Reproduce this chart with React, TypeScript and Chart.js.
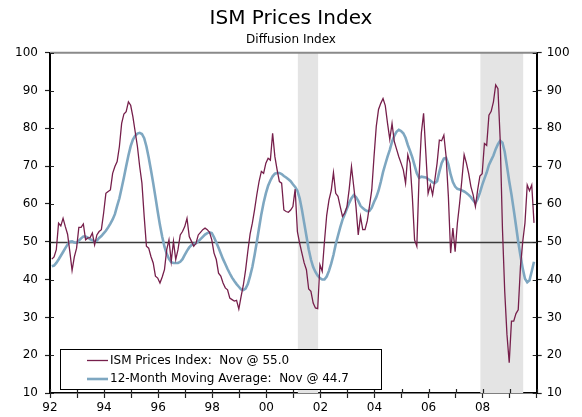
import React, { useEffect, useRef } from 'react';
import { Chart, registerables } from 'chart.js';

Chart.register(...registerables);

// ---------- data ----------
const startYear = 1992;
const endYear = 2010;
const titleText = 'ISM Prices Index';
const subtitleText = 'Diffusion Index';

// Monthly ISM Prices Index, Jan 1992 .. Nov 2009
const ismPrices = [
  45.4, 46.0, 47.9, 54.9, 54.2, 56.2, 54.0, 52.0, 47.4, 42.4, 46.0, 48.3, // 1992
  53.8, 53.8, 54.7, 50.5, 51.0, 51.1, 52.3, 49.2, 51.8, 52.7, 53.2, 57.6, // 1993
  62.8, 63.3, 63.7, 68.1, 69.9, 71.2, 75.2, 81.3, 83.8, 84.4, 87.0, 86.1, // 1994
  83.0, 79.1, 75.2, 69.9, 65.5, 56.7, 48.8, 48.3, 46.1, 44.4, 40.9, 40.4, // 1995
  39.1, 40.7, 42.6, 47.9, 50.5, 44.8, 50.1, 45.3, 47.9, 51.8, 52.7, 54.0, // 1996
  56.2, 51.4, 50.1, 48.8, 49.6, 51.8, 52.5, 53.2, 53.6, 53.2, 52.5, 50.5, // 1997
  47.0, 45.3, 41.7, 40.9, 39.1, 37.8, 37.3, 35.1, 34.7, 34.3, 34.5, 32.2, // 1998
  35.5, 38.5, 42.5, 47.5, 52.0, 54.9, 58.5, 62.5, 66.0, 68.6, 68.1, 70.8, // 1999
  72.1, 71.6, 78.7, 72.5, 69.0, 65.9, 65.5, 58.4, 58.0, 57.8, 58.4, 59.3, // 2000
  63.9, 52.7, 49.6, 47.0, 44.4, 42.6, 37.5, 36.9, 33.8, 32.5, 32.3, 43.9, // 2001
  42.2, 50.0, 57.0, 61.0, 63.5, 68.3, 62.8, 62.0, 59.3, 56.7, 57.6, 59.3, // 2002
  64.0, 69.9, 64.6, 59.3, 51.8, 56.7, 53.2, 53.2, 55.5, 59.5, 63.7, 72.5, // 2003
  80.5, 85.0, 86.6, 87.9, 86.0, 81.3, 77.1, 81.3, 76.5, 74.5, 72.5, 70.8, // 2004
  69.0, 65.5, 73.0, 70.8, 62.0, 50.5, 48.8, 67.2, 78.7, 84.0, 73.4, 62.8, // 2005
  65.0, 62.4, 66.4, 70.8, 76.9, 76.7, 78.2, 72.5, 62.0, 47.0, 53.6, 47.4, // 2006
  54.9, 60.2, 66.4, 73.0, 70.8, 68.1, 64.6, 62.4, 59.3, 63.7, 67.4, 68.0, // 2007
  76.0, 75.5, 83.5, 84.5, 87.0, 91.5, 90.5, 77.0, 53.5, 37.0, 25.5, 18.0, // 2008
  29.0, 29.0, 31.0, 32.0, 43.5, 50.0, 55.0, 65.0, 63.5, 65.0, 55.0,       // 2009
];

// 12-month moving average, Jan 1992 .. Nov 2009
const movingAverage = [
  43.5, 43.7, 44.4, 45.3, 46.3, 47.3, 48.3, 49.3, 50.0, 50.1, 49.8, 49.7, // 1992
  50.3, 50.9, 51.4, 51.4, 51.1, 50.7, 50.4, 50.1, 50.3, 51.0, 51.5, 52.2, // 1993
  52.9, 53.8, 54.8, 55.9, 57.3, 59.5, 61.5, 64.2, 67.0, 70.0, 72.8, 75.3, // 1994
  77.0, 78.0, 78.6, 78.8, 78.5, 77.4, 75.2, 72.3, 69.0, 65.5, 61.8, 58.0, // 1995
  54.4, 51.3, 48.7, 46.8, 45.5, 44.6, 44.4, 44.4, 44.4, 44.7, 45.4, 46.5, // 1996
  47.6, 48.5, 49.1, 49.4, 49.6, 50.1, 50.7, 51.3, 51.9, 52.3, 52.5, 52.3, // 1997
  51.2, 49.8, 48.4, 46.9, 45.4, 44.1, 42.8, 41.6, 40.5, 39.6, 38.8, 38.1, // 1998
  37.4, 37.2, 37.6, 38.8, 40.9, 43.3, 46.5, 50.0, 53.7, 57.3, 60.3, 62.8, // 1999
  64.8, 66.2, 67.3, 68.0, 68.2, 68.2, 67.9, 67.4, 67.0, 66.5, 66.0, 65.2, // 2000
  64.5, 63.5, 61.5, 58.5, 55.0, 51.5, 48.0, 45.3, 43.3, 42.0, 41.0, 40.4, // 2001
  40.0, 40.0, 40.8, 42.3, 44.2, 46.5, 49.3, 51.6, 53.8, 55.8, 57.3, 58.8, // 2002
  60.3, 61.5, 62.3, 61.8, 60.8, 59.5, 58.9, 58.4, 58.1, 58.2, 59.0, 60.5, // 2003
  61.8, 63.5, 65.8, 68.4, 70.5, 72.5, 74.3, 76.5, 78.0, 79.1, 79.6, 79.3, // 2004
  78.7, 77.5, 75.6, 74.0, 72.3, 70.2, 68.1, 66.9, 67.2, 67.1, 67.0, 66.6, // 2005
  66.2, 65.7, 65.5, 66.0, 68.5, 70.8, 72.0, 72.2, 70.5, 67.8, 65.8, 64.6, // 2006
  64.0, 63.8, 63.6, 63.3, 62.9, 62.4, 61.8, 61.0, 60.2, 61.3, 63.0, 65.0, // 2007
  66.7, 68.3, 70.3, 71.6, 72.8, 74.5, 75.8, 76.7, 76.2, 73.8, 70.0, 66.0, // 2008
  62.5, 58.5, 54.3, 50.0, 46.3, 42.9, 40.2, 39.3, 39.8, 42.2, 44.7,       // 2009
];

const seriesNames = ['ISM Prices Index:  Nov @ 55.0', '12-Month Moving Average:  Nov @ 44.7'];
const seriesColors = ['#761f4b', '#7ea7c1'];
const seriesWidths = [1.3, 2.6];

// NBER recessions as [start, end] in fractional years
const recessions = [
  [2001 + 2 / 12, 2001 + 11 / 12],
  [2007 + 11 / 12, 2009 + 6 / 12],
];
const referenceLevel = 50;
const yMin = 10;
const yMax = 100;
const yStep = 10;
const xLabelYears = [1992, 1994, 1996, 1998, 2000, 2002, 2004, 2006, 2008];

const FONT = "'DejaVu Sans', Verdana, sans-serif";

const monthPosition = (i: number) => startYear + (i + 0.8) / 12;

// ---------- plugins ----------
const backdropPlugin = {
  id: 'backdrop',
  beforeDatasetsDraw(chart: any) {
    const { ctx, chartArea, scales } = chart;
    const x = scales.x;
    const y = scales.y;
    ctx.save();
    ctx.fillStyle = '#e4e4e4';
    recessions.forEach(([a, b]) => {
      const x0 = x.getPixelForValue(a);
      const x1 = x.getPixelForValue(b);
      ctx.fillRect(x0, chartArea.top, x1 - x0, chartArea.bottom - chartArea.top);
    });
    const yr = Math.round(y.getPixelForValue(referenceLevel)) + 0.5;
    ctx.strokeStyle = '#3a3a3a';
    ctx.lineWidth = 1.4;
    ctx.beginPath();
    ctx.moveTo(chartArea.left, yr);
    ctx.lineTo(chartArea.right, yr);
    ctx.stroke();
    ctx.restore();
  },
};

const framePlugin = {
  id: 'frame',
  afterDraw(chart: any) {
    const { ctx, chartArea, scales } = chart;
    const { left, right, top, bottom } = chartArea;
    ctx.save();
    // top border
    ctx.strokeStyle = '#8a8a8a';
    ctx.lineWidth = 2;
    ctx.beginPath();
    ctx.moveTo(left, top);
    ctx.lineTo(right, top);
    ctx.stroke();
    // inner tick marks
    ctx.strokeStyle = '#222';
    ctx.lineWidth = 1.2;
    const inner = 4;
    ctx.beginPath();
    scales.y.ticks.forEach((t: any) => {
      const py = Math.round(scales.y.getPixelForValue(t.value)) + 0.5;
      ctx.moveTo(left, py);
      ctx.lineTo(left + inner, py);
      ctx.moveTo(right, py);
      ctx.lineTo(right - inner, py);
    });
    scales.x.ticks.forEach((t: any) => {
      const px = Math.round(scales.x.getPixelForValue(t.value)) + 0.5;
      ctx.moveTo(px, bottom);
      ctx.lineTo(px, bottom - inner);
    });
    ctx.stroke();

    // legend box
    ctx.font = `12px ${FONT}`;
    const textW = Math.max(...seriesNames.map((s) => ctx.measureText(s).width));
    const bx = left + 10;
    const bh = 40;
    const by = bottom - 4 - bh;
    const sample = 21;
    const bw = 27 + sample + 2 + textW + 32;
    ctx.fillStyle = '#ffffff';
    ctx.fillRect(bx, by, bw, bh);
    ctx.strokeStyle = '#000';
    ctx.lineWidth = 1;
    ctx.strokeRect(Math.round(bx) + 0.5, Math.round(by) + 0.5, Math.round(bw), Math.round(bh));
    const rows = [by + 11.5, by + 30];
    seriesNames.forEach((name, i) => {
      const ry = rows[i];
      ctx.strokeStyle = seriesColors[i];
      ctx.lineWidth = seriesWidths[i];
      ctx.beginPath();
      ctx.moveTo(bx + 27, ry);
      ctx.lineTo(bx + 27 + sample, ry);
      ctx.stroke();
      ctx.fillStyle = '#000';
      ctx.textBaseline = 'middle';
      ctx.textAlign = 'left';
      ctx.fillText(name, bx + 27 + sample + 2, ry);
    });
    ctx.restore();
  },
};

export default function App() {
  const canvasRef = useRef<HTMLCanvasElement | null>(null);

  useEffect(() => {
    document.body.style.margin = '0';
    const canvas = canvasRef.current;
    if (!canvas) return;
    Chart.defaults.font.family = FONT;
    Chart.defaults.color = '#000';

    const chart = new Chart(canvas, {
      type: 'line',
      data: {
        datasets: [
          {
            label: seriesNames[0],
            data: ismPrices.map((v, i) => ({ x: monthPosition(i), y: v })),
            borderColor: seriesColors[0],
            borderWidth: seriesWidths[0],
            pointRadius: 0,
            tension: 0,
            order: 1,
          },
          {
            label: seriesNames[1],
            data: movingAverage.map((v, i) => ({ x: monthPosition(i), y: v })),
            borderColor: seriesColors[1],
            borderWidth: seriesWidths[1],
            pointRadius: 0,
            tension: 0,
            order: 2,
          },
        ],
      },
      options: {
        animation: false,
        responsive: false,
        devicePixelRatio: 1,
        layout: { padding: 0 },
        plugins: {
          legend: { display: false },
          tooltip: { enabled: false },
          title: {
            display: true,
            text: titleText,
            font: { size: 20, weight: 'normal', family: FONT },
            color: '#000',
            padding: { top: 7, bottom: 2 },
          },
          subtitle: {
            display: true,
            text: subtitleText,
            font: { size: 12, weight: 'normal', family: FONT },
            color: '#000',
            padding: { top: 0, bottom: 5.3 },
          },
        },
        scales: {
          x: {
            type: 'linear',
            min: startYear,
            max: endYear,
            grid: { drawOnChartArea: false, tickLength: 5, color: '#222', tickWidth: 1.2 },
            border: { color: '#000', width: 1.5 },
            ticks: {
              stepSize: 1,
              autoSkip: false,
              maxRotation: 0,
              padding: 3,
              font: { size: 12 },
              color: '#000',
              callback: (v: any) =>
                xLabelYears.includes(Number(v)) ? String(v).slice(2) : '',
            },
            afterFit: (s: any) => {
              s.height = 24;
            },
          },
          y: {
            position: 'left',
            min: yMin,
            max: yMax,
            grid: { drawOnChartArea: false, tickLength: 5, color: '#222', tickWidth: 1.2 },
            border: { color: '#000', width: 2 },
            ticks: { stepSize: yStep, padding: 7, font: { size: 12 }, color: '#000' },
            afterFit: (s: any) => {
              s.width = 50;
            },
          },
          y2: {
            position: 'right',
            min: yMin,
            max: yMax,
            grid: { drawOnChartArea: false, tickLength: 5, color: '#222', tickWidth: 1.2 },
            border: { color: '#000', width: 2 },
            ticks: { stepSize: yStep, padding: 5, font: { size: 12 }, color: '#000' },
            afterFit: (s: any) => {
              s.width = 45.3;
            },
          },
        },
      },
      plugins: [backdropPlugin, framePlugin],
    });
    return () => chart.destroy();
  }, []);

  return (
    <div style={{ position: 'absolute', left: 0, top: 0, width: 582, height: 417, background: '#fff' }}>
      <canvas ref={canvasRef} width={582} height={417} />
    </div>
  );
}
